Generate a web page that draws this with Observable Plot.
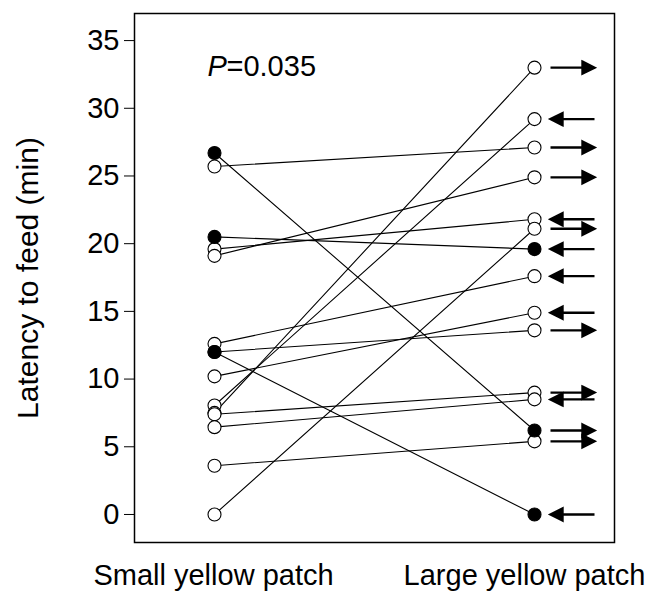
<!DOCTYPE html>
<html>
<head>
<meta charset="utf-8">
<script src="https://cdn.jsdelivr.net/npm/d3@7"></script>
<script src="https://cdn.jsdelivr.net/npm/@observablehq/plot@0.6"></script>
<style>
  html, body { margin: 0; padding: 0; background: white; }
</style>
</head>
<body>
<div id="chart"></div>
<script>
const categories = ["Small yellow patch", "Large yellow patch"];
const small = [26.7, 25.7, 20.5, 19.6, 19.1, 12.6, 12.0, 12.0, 10.2, 8.05, 7.5, 7.4, 6.45, 3.6, 0];
const large = [6.2, 27.1, 19.6, 21.8, 24.9, 17.6, 0, 13.6, 14.9, 29.2, 33.0, 9.0, 8.5, 5.4, 21.1];
const filled = [true, false, true, false, false, false, true, false, false, false, false, false, false, false, false];
const direction = ["right", "right", "left", "left", "right", "left", "left", "right", "left", "left", "right", "right", "left", "right", "right"];
const yTicks = [0, 5, 10, 15, 20, 25, 30, 35];
const yLabel = "Latency to feed (min)";
const pValue = "0.035";

const points = [];
small.forEach((v, i) => {
  points.push({id: i, cat: categories[0], value: v, filled: filled[i]});
  points.push({id: i, cat: categories[1], value: large[i], filled: filled[i]});
});
const dotsData = points.slice().sort((a, b) => (a.filled ? 1 : 0) - (b.filled ? 1 : 0));
const arrows = large.map((v, i) => ({cat: categories[1], value: v, dir: direction[i]}));

const arrowShape = {
  draw(context, l) {
    const head = 12, wing = 6;
    context.moveTo(0, 0);
    context.lineTo(0, -l + head);
    context.moveTo(-wing, -l + head);
    context.lineTo(0, -l);
    context.lineTo(wing, -l + head);
    context.closePath();
  }
};

const font = "'Liberation Sans', Arial, Helvetica, sans-serif";
const fs = 29;

const chart = Plot.plot({
  width: 652,
  height: 595,
  marginLeft: 134,
  marginRight: 38,
  marginTop: 13,
  marginBottom: 53,
  style: {fontFamily: font, background: "white", color: "black"},
  x: {type: "point", domain: categories, padding: 0.25},
  y: {domain: [-2.07, 37]},
  color: {type: "identity"},
  marks: [
    Plot.frame({stroke: "black", strokeWidth: 1.5}),
    Plot.axisY(yTicks, {tickSize: 10, tickPadding: 5, fontSize: fs, label: null}),
    Plot.text([yLabel], {text: d => d, frameAnchor: "left", rotate: -90, dx: -106, fontSize: 30, textAnchor: "middle", lineAnchor: "middle"}),
    Plot.axisX([categories[0]], {tickSize: 0, tickPadding: 22, fontSize: fs, label: null, dx: -1}),
    Plot.axisX([categories[1]], {tickSize: 0, tickPadding: 22, fontSize: fs, label: null, dx: -10}),
    Plot.line(points, {x: "cat", y: "value", z: "id", stroke: "black", strokeWidth: 1.1}),
    Plot.dot(dotsData, {x: "cat", y: "value", r: 6.5, fill: d => d.filled ? "black" : "white", stroke: "black", strokeWidth: 1.1}),
    Plot.vector(arrows, {
      x: "cat", y: "value", length: 44, anchor: "middle", dx: 38,
      rotate: d => d.dir === "right" ? 90 : -90,
      shape: arrowShape, stroke: "black", fill: "black", strokeWidth: 2.4,
      strokeLinejoin: "miter", strokeLinecap: "butt"
    }),
    Plot.text(["P"], {text: d => d, frameAnchor: "top-left", dx: 73, dy: 62, lineAnchor: "bottom", textAnchor: "start", fontSize: fs, fontStyle: "italic"}),
    Plot.text(["=" + pValue], {text: d => d, frameAnchor: "top-left", dx: 92, dy: 62, lineAnchor: "bottom", textAnchor: "start", fontSize: fs})
  ]
});
document.getElementById("chart").appendChild(chart);
</script>
</body>
</html>
